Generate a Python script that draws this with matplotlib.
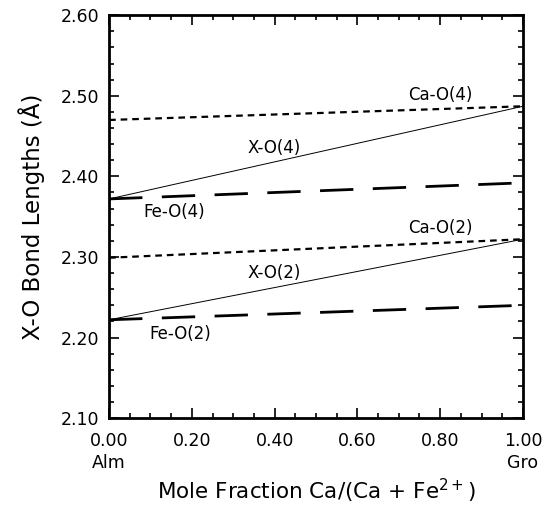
import numpy as np
import matplotlib
matplotlib.use("Agg")
import matplotlib.pyplot as plt
from matplotlib.ticker import MultipleLocator

# end members: Alm (x=0) and Gro (x=1)
x_end = [0.0, 1.0]

ca_o4 = [2.470, 2.487]
x_o4 = [2.372, 2.487]
fe_o4 = [2.372, 2.392]

ca_o2 = [2.299, 2.322]
x_o2 = [2.222, 2.322]
fe_o2 = [2.222, 2.240]

xticks = [0.0, 0.2, 0.4, 0.6, 0.8, 1.0]
xticklabels = ["0.00\nAlm", "0.20", "0.40", "0.60", "0.80", "1.00\nGro"]
yticks = [2.10, 2.20, 2.30, 2.40, 2.50, 2.60]

plt.rcParams['font.family'] = ['DejaVu Sans']

fig = plt.figure(figsize=(5.51, 5.08), dpi=100)
ax = fig.add_axes([0.198, 0.177, 0.751, 0.793])

ax.plot(x_end, ca_o4, color='black', lw=1.6, dashes=(3, 2.2))
ax.plot(x_end, x_o4, color='black', lw=0.7)
ax.plot(x_end, fe_o4, color='black', lw=2.0, dashes=(12, 7))

ax.plot(x_end, ca_o2, color='black', lw=1.6, dashes=(3, 2.2))
ax.plot(x_end, x_o2, color='black', lw=0.7)
ax.plot(x_end, fe_o2, color='black', lw=2.0, dashes=(12, 7))

lab = dict(fontsize=12, color='black')
ax.text(0.80, 2.501, "Ca-O(4)", ha='center', va='center', **lab)
ax.text(0.40, 2.435, "X-O(4)", ha='center', va='center', **lab)
ax.text(0.082, 2.356, "Fe-O(4)", ha='left', va='center', **lab)
ax.text(0.80, 2.336, "Ca-O(2)", ha='center', va='center', **lab)
ax.text(0.40, 2.280, "X-O(2)", ha='center', va='center', **lab)
ax.text(0.097, 2.204, "Fe-O(2)", ha='left', va='center', **lab)

ax.set_xlim(0, 1)
ax.set_ylim(2.10, 2.60)
ax.set_xticks(xticks)
ax.set_xticklabels(xticklabels, linespacing=1.3)
ax.set_yticks(yticks)
ax.set_yticklabels([f"{v:.2f}" for v in yticks])
ax.xaxis.set_minor_locator(MultipleLocator(0.05))
ax.yaxis.set_minor_locator(MultipleLocator(0.02))
ax.tick_params(which='both', direction='in', top=True, right=True,
               labelsize=12.5, width=1.2)
ax.tick_params(which='major', length=7)
ax.tick_params(axis='x', which='major', pad=10)
ax.tick_params(axis='y', which='major', pad=7)
ax.tick_params(which='minor', length=3.5)
for s in ax.spines.values():
    s.set_linewidth(2)

ax.set_xlabel(r"Mole Fraction Ca/(Ca + Fe$^{2+}$)", fontsize=15.5, labelpad=3)
ax.set_ylabel("X-O Bond Lengths (Å)", fontsize=16.5, labelpad=11)

fig.savefig("out.png", dpi=100)
